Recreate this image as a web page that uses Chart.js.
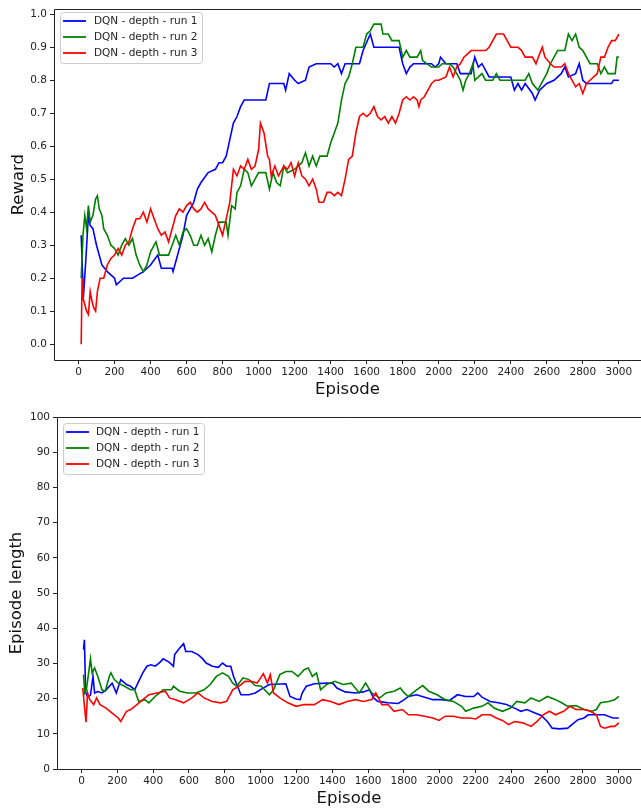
<!DOCTYPE html>
<html>
<head>
<meta charset="utf-8">
<script src="https://cdn.jsdelivr.net/npm/chart.js@4/dist/chart.umd.min.js"></script>
<style>
  body { margin: 0; background: #fff; }
  canvas { display: block; }
</style>
</head>
<body>
<canvas id="reward-chart" width="641" height="405"></canvas>
<canvas id="length-chart" width="641" height="405"></canvas>
<script>
// tick labels
var episodeTicks = [0,200,400,600,800,1000,1200,1400,1600,1800,2000,2200,2400,2600,2800,3000];
var rewardTicks = [0,0.1,0.2,0.3,0.4,0.5,0.6,0.7,0.8,0.9,1.0];
var lengthTicks = [0,10,20,30,40,50,60,70,80,90,100];
var runNames = ["DQN - depth - run 1", "DQN - depth - run 2", "DQN - depth - run 3"];
var runColors = ["#0000ff", "#008000", "#ff0000"];

// reward
var rewardEp1 = [15,27,40,55,65,80,100,130,160,200,210,250,300,330,360,400,440,460,520,525,540,580,600,640,660,680,720,760,780,800,820,840,860,880,900,920,1040,1060,1140,1150,1170,1200,1220,1260,1280,1320,1400,1420,1440,1460,1480,1560,1580,1620,1640,1780,1800,1820,1840,1860,1960,1980,2000,2010,2040,2100,2120,2180,2200,2220,2240,2280,2400,2420,2440,2460,2480,2520,2535,2560,2600,2640,2680,2700,2720,2760,2780,2800,2820,2960,2970,3000];
var reward1 = [0.33,0.14,0.25,0.39,0.36,0.35,0.30,0.24,0.22,0.20,0.18,0.20,0.20,0.21,0.22,0.24,0.27,0.23,0.23,0.22,0.25,0.33,0.39,0.43,0.47,0.49,0.52,0.53,0.55,0.55,0.57,0.62,0.67,0.69,0.72,0.74,0.74,0.79,0.79,0.77,0.82,0.80,0.79,0.80,0.84,0.85,0.85,0.84,0.85,0.82,0.85,0.85,0.89,0.94,0.90,0.90,0.85,0.82,0.84,0.85,0.85,0.84,0.85,0.87,0.85,0.85,0.82,0.82,0.87,0.84,0.85,0.81,0.81,0.77,0.79,0.77,0.79,0.76,0.74,0.77,0.79,0.80,0.82,0.84,0.81,0.82,0.85,0.80,0.79,0.79,0.80,0.80];

var rewardEp2 = [15,25,35,45,55,65,80,95,105,115,130,140,160,180,200,220,240,260,280,300,320,340,360,380,400,430,450,500,520,540,560,580,600,620,640,660,680,700,720,740,760,780,820,830,850,870,880,900,920,940,960,980,1000,1040,1060,1080,1100,1120,1140,1160,1200,1240,1260,1280,1300,1320,1340,1380,1400,1420,1440,1460,1480,1500,1520,1540,1580,1600,1620,1640,1680,1690,1720,1740,1780,1800,1820,1840,1880,1900,1910,1960,2000,2020,2060,2080,2100,2120,2135,2150,2170,2190,2200,2220,2240,2260,2300,2320,2340,2480,2500,2520,2550,2580,2600,2620,2640,2660,2700,2720,2740,2760,2780,2800,2840,2880,2900,2920,2940,2980,2990,3000];
var reward2 = [0.20,0.33,0.39,0.35,0.42,0.37,0.39,0.44,0.45,0.41,0.39,0.35,0.33,0.30,0.29,0.27,0.30,0.32,0.30,0.32,0.27,0.24,0.22,0.24,0.28,0.31,0.27,0.27,0.30,0.33,0.30,0.34,0.35,0.33,0.30,0.30,0.33,0.30,0.32,0.28,0.33,0.37,0.37,0.33,0.42,0.41,0.46,0.48,0.53,0.52,0.48,0.50,0.52,0.52,0.47,0.52,0.49,0.48,0.54,0.52,0.53,0.55,0.58,0.54,0.57,0.54,0.57,0.57,0.61,0.64,0.67,0.74,0.79,0.81,0.85,0.90,0.90,0.94,0.95,0.97,0.97,0.94,0.94,0.92,0.92,0.87,0.89,0.87,0.87,0.89,0.86,0.84,0.84,0.85,0.85,0.84,0.82,0.80,0.77,0.80,0.82,0.85,0.80,0.81,0.82,0.80,0.80,0.82,0.80,0.80,0.82,0.79,0.77,0.80,0.82,0.85,0.87,0.89,0.89,0.94,0.92,0.94,0.90,0.89,0.85,0.85,0.82,0.84,0.82,0.82,0.87,0.87];

var rewardEp3 = [15,20,25,35,45,55,65,75,85,95,105,120,140,160,180,200,220,240,260,280,300,320,340,360,380,400,420,440,460,480,500,520,540,560,580,600,620,640,660,680,700,720,740,760,780,800,820,840,860,880,900,920,940,960,980,1000,1010,1030,1050,1060,1070,1090,1110,1140,1160,1180,1200,1220,1240,1260,1280,1300,1320,1335,1360,1380,1400,1420,1440,1460,1480,1500,1520,1540,1560,1580,1600,1620,1640,1660,1680,1700,1720,1740,1760,1780,1800,1820,1840,1860,1880,1890,1900,1920,1940,1960,1980,2000,2040,2060,2080,2100,2120,2140,2160,2180,2260,2280,2300,2320,2360,2380,2400,2440,2460,2480,2520,2540,2560,2575,2590,2620,2640,2680,2700,2720,2740,2760,2780,2800,2820,2840,2880,2900,2920,2940,2960,2980,3000];
var reward3 = [0.00,0.20,0.14,0.12,0.10,0.09,0.16,0.13,0.11,0.10,0.16,0.20,0.20,0.24,0.26,0.27,0.29,0.27,0.30,0.31,0.35,0.38,0.38,0.40,0.37,0.41,0.38,0.35,0.33,0.34,0.31,0.35,0.39,0.41,0.40,0.42,0.43,0.41,0.40,0.41,0.43,0.41,0.40,0.39,0.36,0.33,0.38,0.43,0.53,0.51,0.54,0.53,0.56,0.53,0.54,0.59,0.67,0.64,0.57,0.56,0.51,0.54,0.51,0.54,0.53,0.55,0.51,0.55,0.51,0.50,0.48,0.50,0.47,0.43,0.43,0.46,0.46,0.45,0.46,0.45,0.50,0.56,0.57,0.64,0.69,0.70,0.69,0.70,0.72,0.69,0.68,0.69,0.67,0.69,0.67,0.70,0.74,0.75,0.74,0.75,0.74,0.72,0.74,0.75,0.77,0.79,0.80,0.80,0.81,0.84,0.81,0.84,0.85,0.87,0.88,0.89,0.89,0.90,0.92,0.94,0.94,0.92,0.90,0.90,0.89,0.87,0.87,0.85,0.88,0.90,0.87,0.85,0.84,0.84,0.85,0.82,0.80,0.78,0.79,0.76,0.79,0.80,0.82,0.87,0.87,0.90,0.92,0.92,0.94];

// episode length
var lengthEp1 = [11,16,23,34,50,64,73,91,114,137,171,194,219,251,274,297,319,342,365,388,411,433,456,491,513,520,548,570,582,616,650,673,696,730,764,787,810,833,849,867,890,935,970,1004,1049,1141,1164,1198,1221,1232,1255,1300,1369,1403,1426,1472,1529,1574,1608,1631,1654,1711,1768,1802,1825,1871,1916,1962,2008,2053,2099,2145,2190,2213,2236,2282,2327,2373,2418,2453,2487,2532,2567,2601,2628,2669,2715,2738,2772,2806,2829,2875,2920,2966,3000];
var length1 = [33.9,36.7,21.7,20.5,21.0,26.3,21.6,22.0,21.6,22.5,24.4,21.6,25.4,24.0,23.5,22.5,24.9,27.3,29.2,29.6,29.2,30.1,31.3,30.3,29.2,32.5,34.4,35.6,33.4,33.4,32.5,31.5,30.1,29.2,28.9,30.1,29.2,29.2,26.3,24.0,21.1,21.1,21.6,22.7,24.0,24.2,20.6,19.9,19.7,21.6,23.5,24.2,24.4,24.4,23.0,21.9,21.6,21.9,22.5,20.2,19.2,18.8,18.6,19.7,20.6,21.1,20.4,19.7,19.7,19.4,21.1,20.6,20.6,21.6,20.4,19.2,18.8,18.3,17.3,16.4,16.9,15.9,15.2,13.5,11.6,11.4,11.6,12.6,14.0,14.5,15.4,15.4,15.4,14.5,14.5];

var lengthEp2 = [11,18,27,50,59,73,91,114,132,155,164,183,205,240,274,297,319,354,376,411,456,502,513,548,593,639,684,719,753,787,821,844,867,901,935,970,1004,1049,1072,1107,1141,1175,1209,1243,1266,1289,1312,1335,1369,1415,1460,1506,1551,1586,1620,1666,1700,1745,1780,1802,1825,1871,1905,1939,1985,2031,2076,2122,2145,2190,2236,2270,2304,2350,2396,2430,2476,2510,2555,2601,2647,2681,2715,2761,2806,2852,2875,2898,2943,2977,3000];
var length2 = [26.8,21.6,22.5,31.3,27.3,28.7,26.3,22.5,22.1,26.3,27.3,25.4,24.4,23.5,22.5,22.5,19.2,19.7,18.8,20.6,22.5,22.5,23.5,22.1,21.6,21.6,22.5,24.0,26.3,27.3,26.3,24.4,23.5,25.9,25.4,23.7,23.5,21.1,22.5,26.8,27.7,27.7,26.3,28.2,28.7,26.3,27.3,22.5,24.0,24.9,24.0,24.4,21.6,24.4,21.6,20.2,21.6,22.1,23.0,21.6,20.6,22.5,23.7,22.1,21.1,19.7,19.2,17.8,16.4,17.3,17.8,18.8,17.3,16.4,17.3,19.2,18.8,20.2,19.2,20.6,19.7,18.8,17.8,18.0,16.9,16.4,16.9,18.8,19.2,19.7,20.6];

var lengthEp3 = [7,18,25,34,46,68,84,103,137,171,205,219,251,274,297,331,376,422,468,491,525,570,616,650,684,730,776,810,844,878,913,947,981,1015,1038,1054,1072,1107,1152,1198,1243,1300,1346,1392,1437,1483,1529,1574,1620,1643,1677,1711,1745,1791,1825,1871,1916,1962,1996,2031,2076,2122,2167,2202,2236,2282,2316,2350,2384,2418,2464,2510,2544,2578,2612,2647,2692,2726,2761,2806,2841,2875,2898,2920,2955,2977,3000];
var length3 = [23.0,16.9,13.3,21.6,19.7,18.3,20.2,18.3,17.3,15.9,14.5,13.5,16.4,16.9,17.8,19.2,21.1,21.6,22.1,20.2,19.7,18.8,20.2,21.6,20.2,19.2,18.8,19.2,22.5,23.5,24.9,24.9,24.4,27.1,24.4,26.8,21.6,20.2,18.8,17.8,18.3,18.3,19.7,19.2,18.3,19.2,19.7,19.2,19.7,21.6,18.3,18.3,16.4,16.9,15.4,15.4,15.0,14.5,13.8,15.0,15.0,14.5,14.5,14.2,15.4,15.4,14.5,13.8,12.6,13.5,13.1,12.1,13.5,15.4,16.4,15.4,16.4,17.8,16.9,16.9,16.4,15.4,12.1,11.6,12.1,12.1,13.1];

var FONT = "'DejaVu Sans', sans-serif";

function pairs(xs, ys){
  return xs.map(function(x, i){ return {x: x, y: ys[i]}; });
}

function makeSets(series){
  // red on top like matplotlib: last run gets the lowest order
  return series.map(function(s, i){
    return {
      label: runNames[i],
      data: pairs(s[0], s[1]),
      borderColor: runColors[i],
      borderWidth: 1.6,
      pointRadius: 0,
      tension: 0,
      fill: false,
      order: series.length - i
    };
  });
}

// spines (left, bottom, top) and the legend box inside the axes
var framePlugin = {
  id: 'frame',
  afterDraw: function(chart){
    var ctx = chart.ctx, a = chart.chartArea;
    ctx.save();
    ctx.strokeStyle = '#222';
    ctx.lineWidth = 1;
    ctx.beginPath();
    ctx.moveTo(a.right + 2, Math.round(a.top) + 0.5);
    ctx.lineTo(Math.round(a.left) + 0.5, Math.round(a.top) + 0.5);
    ctx.lineTo(Math.round(a.left) + 0.5, Math.round(a.bottom) + 0.5);
    ctx.lineTo(a.right + 2, Math.round(a.bottom) + 0.5);
    ctx.stroke();

    var o = chart.options.plugins.frame;
    ctx.fillStyle = 'rgba(255,255,255,0.8)';
    ctx.strokeStyle = '#cccccc';
    ctx.beginPath();
    ctx.roundRect(o.x + 0.5, o.y + 0.5, o.w, o.h, 3);
    ctx.fill();
    ctx.stroke();
    ctx.font = '10.5px ' + FONT;
    ctx.textBaseline = 'middle';
    chart.data.datasets.forEach(function(ds, i){
      var yy = o.y + o.first + i * o.step;
      ctx.strokeStyle = ds.borderColor;
      ctx.lineWidth = 1.8;
      ctx.beginPath();
      ctx.moveTo(o.lineX, yy);
      ctx.lineTo(o.lineX + 23, yy);
      ctx.stroke();
      ctx.fillStyle = '#222';
      ctx.fillText(ds.label, o.textX, yy + 0.5);
    });
    ctx.restore();
  }
};

function axisX(min, max, h, titlePad){
  return {
    type: 'linear', min: min, max: max,
    afterBuildTicks: function(s){ s.ticks = episodeTicks.map(function(v){ return {value: v}; }); },
    afterFit: function(s){ s.height = h; },
    ticks: { callback: function(v){ return String(v); }, font: {family: FONT, size: 10.5}, color: '#222', padding: 2, maxRotation: 0, autoSkip: false },
    grid: { drawOnChartArea: false, drawTicks: true, tickLength: 4, color: '#222' },
    border: { display: false },
    title: { display: true, text: 'Episode', color: '#111', font: {family: FONT, size: 16.5, lineHeight: 1.2}, padding: {top: 0, bottom: titlePad} }
  };
}

function axisY(min, max, w, ticks, fmt, text, titlePad){
  return {
    min: min, max: max,
    afterBuildTicks: function(s){ s.ticks = ticks.map(function(v){ return {value: v}; }); },
    afterFit: function(s){ s.width = w; },
    ticks: { callback: fmt, font: {family: FONT, size: 10.5}, color: '#222', padding: 3, autoSkip: false },
    grid: { drawOnChartArea: false, drawTicks: true, tickLength: 4, color: '#222' },
    border: { display: false },
    title: { display: true, text: text, color: '#111', font: {family: FONT, size: 16.5, lineHeight: 1.2}, padding: {top: titlePad, bottom: 0} }
  };
}

function reward_chart(){
  new Chart(document.getElementById("reward-chart"), {
    type: 'line',
    data: { datasets: makeSets([[rewardEp1, reward1], [rewardEp2, reward2], [rewardEp3, reward3]]) },
    options: {
      responsive: false, animation: false, devicePixelRatio: 1,
      layout: { padding: {top: 7, left: 0, right: 0, bottom: 0} },
      scales: {
        x: axisX(-136, 3123, 45, 5),
        y: axisY(-0.048, 1.015, 54, rewardTicks, function(v){ return v.toFixed(1); }, 'Reward', 8.5)
      },
      plugins: {
        legend: { display: false }, tooltip: { enabled: false },
        frame: { x: 60, y: 12, w: 142, h: 51, first: 9, step: 16, lineX: 63, textX: 94 }
      }
    },
    plugins: [framePlugin]
  });
}

function length_chart(){
  new Chart(document.getElementById("length-chart"), {
    type: 'line',
    data: { datasets: makeSets([[lengthEp1, length1], [lengthEp2, length2], [lengthEp3, length3]]) },
    options: {
      responsive: false, animation: false, devicePixelRatio: 1,
      layout: { padding: {top: 12, left: 0, right: 0, bottom: 0} },
      scales: {
        x: axisX(-137, 3124, 41, 1),
        y: axisY(0, 100, 57, lengthTicks, function(v){ return String(v); }, 'Episode length', 6.4)
      },
      plugins: {
        legend: { display: false }, tooltip: { enabled: false },
        frame: { x: 63, y: 18, w: 141, h: 51, first: 9, step: 16, lineX: 66, textX: 96 }
      }
    },
    plugins: [framePlugin]
  });
}

reward_chart();
length_chart();
</script>
</body>
</html>
